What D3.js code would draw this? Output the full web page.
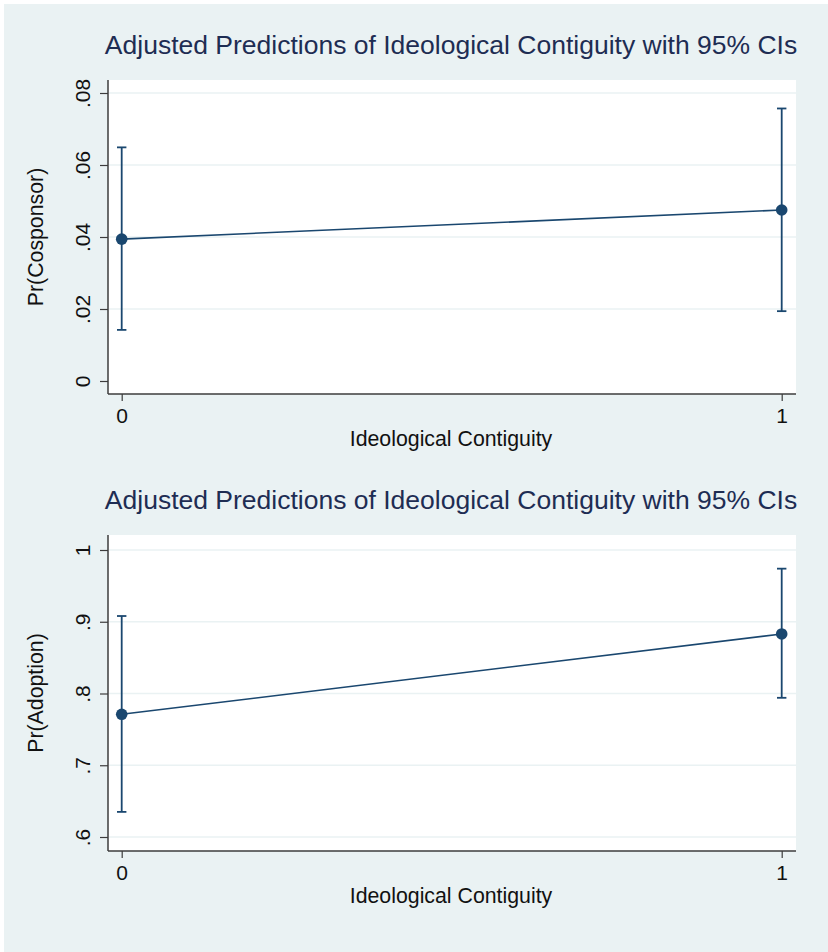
<!DOCTYPE html>
<html><head><meta charset="utf-8">
<script src="https://cdn.jsdelivr.net/npm/d3@7"></script>
<style>body{margin:0;background:#fff}svg{display:block}text{font-family:"Liberation Sans",Arial,sans-serif}</style>
</head><body><svg id="c" width="828" height="952"></svg>
<script>
const titleText = "Adjusted Predictions of Ideological Contiguity with 95% CIs";
const xLabel = "Ideological Contiguity";
const xCats = [0, 1];
const xTickLabels = ["0", "1"];
// Panel 1: Pr(Cosponsor)
const cosponsorEst = [0.0394, 0.0475];
const cosponsorLo = [0.0142, 0.0194];
const cosponsorHi = [0.0649, 0.0757];
const cosponsorTicks = [0, 0.02, 0.04, 0.06, 0.08];
const cosponsorTickLabels = ["0", ".02", ".04", ".06", ".08"];
// Panel 2: Pr(Adoption)
const adoptionEst = [0.771, 0.883];
const adoptionLo = [0.635, 0.794];
const adoptionHi = [0.908, 0.974];
const adoptionTicks = [0.6, 0.7, 0.8, 0.9, 1];
const adoptionTickLabels = [".6", ".7", ".8", ".9", "1"];

const svg = d3.select("#c");
const navy = "#1a476f";
svg.append("rect").attr("x",4).attr("y",4).attr("width",824).attr("height",948).attr("fill","#eaf2f3");

function panel(o){
  const g = svg.append("g");
  const left=108, right=796;
  g.append("rect").attr("x",left).attr("y",o.top).attr("width",right-left).attr("height",o.bottom-o.top).attr("fill","#fff");
  const x = d3.scalePoint().domain(xCats).range([121.7,781.7]);
  const y = d3.scaleLinear().domain([o.ticks[0], o.ticks[o.ticks.length-1]]).range([o.y0,o.y1]);
  // grid
  g.selectAll(".grid").data(o.gridTicks).enter().append("line")
    .attr("x1",left+1).attr("x2",right).attr("y1",d=>y(d)).attr("y2",d=>y(d))
    .attr("stroke","#eaf2f3").attr("stroke-width",1.5);
  // title
  g.append("text").attr("x",451).attr("y",o.top-26).attr("text-anchor","middle")
    .attr("font-size",26.5).attr("fill","#1e2d53").text(titleText);
  // y axis
  const ya = d3.axisLeft(y).tickValues(o.ticks).tickFormat((d,i)=>o.tickLabels[i]).tickSize(8).tickSizeOuter(0);
  const yg = g.append("g").attr("transform",`translate(${left},0)`).call(ya);
  yg.select(".domain").attr("d",`M0,${o.top}V${o.bottom}`).attr("stroke","#3c3c3c").attr("stroke-width",1.5);
  yg.selectAll(".tick line").attr("stroke","#3c3c3c").attr("stroke-width",1.2);
  yg.selectAll(".tick text").attr("font-size",21).attr("fill","#111").attr("font-family","Liberation Sans, Arial, sans-serif")
    .attr("transform","rotate(-90)").attr("x",0).attr("y",-18).attr("dy","0").attr("text-anchor","middle");
  // x axis
  const xa = d3.axisBottom(x).tickFormat((d,i)=>xTickLabels[i]).tickSize(7).tickSizeOuter(0);
  const xg = g.append("g").attr("transform",`translate(0,${o.bottom})`).call(xa);
  xg.select(".domain").attr("d",`M${left},0H${right}`).attr("stroke","#3c3c3c").attr("stroke-width",1.5);
  xg.selectAll(".tick line").attr("stroke","#3c3c3c").attr("stroke-width",1.2);
  xg.selectAll(".tick text").attr("font-size",21).attr("fill","#111").attr("font-family","Liberation Sans, Arial, sans-serif").attr("y",14).attr("dy","0.71em");
  // axis titles
  g.append("text").attr("x",451).attr("y",o.bottom+52).attr("text-anchor","middle").attr("font-size",21.3).attr("fill","#111").text(xLabel);
  g.append("text").attr("transform",`translate(43,${(o.top+o.bottom)/2}) rotate(-90)`).attr("text-anchor","middle")
    .attr("font-size",21.3).attr("fill","#111").text(o.ylabel);
  // error bars
  const data = xCats.map((c,i)=>({c, est:o.est[i], lo:o.lo[i], hi:o.hi[i]}));
  const eb = g.selectAll(".eb").data(data).enter().append("g").attr("stroke",navy).attr("stroke-width",1.8);
  eb.append("line").attr("x1",d=>x(d.c)).attr("x2",d=>x(d.c)).attr("y1",d=>y(d.lo)).attr("y2",d=>y(d.hi));
  eb.append("line").attr("x1",d=>x(d.c)-4.7).attr("x2",d=>x(d.c)+4.7).attr("y1",d=>y(d.lo)).attr("y2",d=>y(d.lo));
  eb.append("line").attr("x1",d=>x(d.c)-4.7).attr("x2",d=>x(d.c)+4.7).attr("y1",d=>y(d.hi)).attr("y2",d=>y(d.hi));
  g.append("path").datum(data).attr("fill","none").attr("stroke",navy).attr("stroke-width",1.6)
    .attr("d",d3.line().x(d=>x(d.c)).y(d=>y(d.est)));
  g.selectAll(".pt").data(data).enter().append("circle").attr("cx",d=>x(d.c)).attr("cy",d=>y(d.est)).attr("r",5.8).attr("fill",navy);
}

panel({top:80,bottom:394,y0:381,y1:93,ticks:cosponsorTicks,tickLabels:cosponsorTickLabels,gridTicks:cosponsorTicks.slice(1),
  est:cosponsorEst,lo:cosponsorLo,hi:cosponsorHi,ylabel:"Pr(Cosponsor)"});
panel({top:535,bottom:851,y0:837,y1:550,ticks:adoptionTicks,tickLabels:adoptionTickLabels,gridTicks:adoptionTicks,
  est:adoptionEst,lo:adoptionLo,hi:adoptionHi,ylabel:"Pr(Adoption)"});
</script></body></html>
